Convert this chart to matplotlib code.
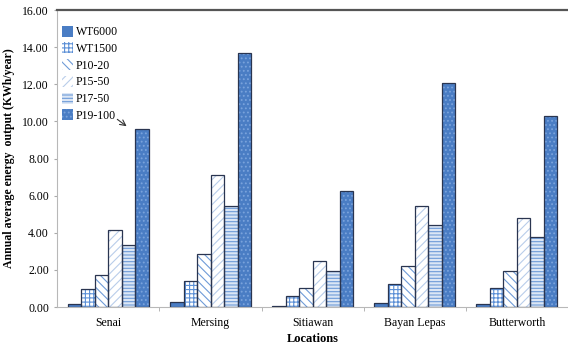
import numpy as np
import matplotlib
matplotlib.use("Agg")
import matplotlib.pyplot as plt
from matplotlib.patches import Patch

plt.rcParams["font.family"] = ["Liberation Serif", "DejaVu Serif"]
plt.rcParams["hatch.linewidth"] = 0.8

locations = ["Senai", "Mersing", "Sitiawan", "Bayan Lepas", "Butterworth"]
series = ["WT6000", "WT1500", "P10-20", "P15-50", "P17-50", "P19-100"]
wt6000 = [0.15, 0.25, 0.05, 0.20, 0.15]
wt1500 = [0.95, 1.40, 0.60, 1.25, 1.00]
p10_20 = [1.70, 2.85, 1.00, 2.20, 1.95]
p15_50 = [4.15, 7.10, 2.50, 5.45, 4.80]
p17_50 = [3.35, 5.45, 1.95, 4.40, 3.75]
p19_100 = [9.60, 13.70, 6.25, 12.05, 10.30]
values = [wt6000, wt1500, p10_20, p15_50, p17_50, p19_100]

blue = "#4a7dc4"
# (face, hatch, hatch colour) per series
styles = [
    (blue, None, blue),
    ("white", "++++", "#5b8fd6"),
    ("white", "\\\\\\\\", "#6f9bd8"),
    ("white", "////", "#b9cdea"),
    ("#dbe6f5", "-----", "#6f9bd8"),
    (blue, "....", "#7aa3dc"),
]

fig = plt.figure(figsize=(5.68, 3.45), dpi=100)
ax = fig.add_axes([0.101, 0.110, 0.899, 0.861])

x = np.arange(len(locations))
w = 0.132
handles = []
for i, (name, vals) in enumerate(zip(series, values)):
    face, hatch, hcol = styles[i]
    pos = x + (i - 2.5) * w
    # hatch layer, then outline on top
    ax.bar(pos, vals, w, color=face, hatch=hatch, edgecolor=hcol, linewidth=0, zorder=2)
    ax.bar(pos, vals, w, color="none", edgecolor="#2a3550", linewidth=0.9, zorder=3)
    handles.append(Patch(facecolor=face, hatch=hatch, edgecolor=hcol, linewidth=0))

ax.set_xlim(-0.5, 4.5)
ax.set_ylim(0, 16)
ax.set_yticks(np.arange(0, 16.1, 2))
ax.set_yticklabels([f"{v:.2f}" for v in np.arange(0, 16.1, 2)], fontsize=8.5)
ax.set_xticks(x)
ax.set_xticklabels(locations, fontsize=8.5)
ax.set_xticks(np.arange(0.5, 4.6, 1), minor=True)
ax.tick_params(axis="x", which="major", length=0, pad=7)
ax.tick_params(axis="x", which="minor", length=3, color="#aaaaaa")
ax.tick_params(axis="y", length=2, color="#aaaaaa", pad=4)

for s in ("left", "bottom"):
    ax.spines[s].set_color("#b8b8b8")
    ax.spines[s].set_linewidth(0.8)
ax.spines["top"].set_color("#555555")
ax.spines["top"].set_linewidth(1.6)
ax.spines["right"].set_visible(False)

ax.set_xlabel("Locations", fontsize=9, fontweight="bold", labelpad=3)
ax.set_ylabel("Annual average energy  output (KWh/year)", fontsize=8.5, fontweight="bold", labelpad=5)

leg = ax.legend(handles, series, loc="upper left", bbox_to_anchor=(-0.008, 0.975),
                frameon=False, fontsize=8.5, handlelength=1.0, handleheight=1.05,
                handletextpad=0.2, labelspacing=0.36, borderaxespad=0.3)

ax.annotate("", xy=(0.2, 9.65), xytext=(0.065, 10.2),
            arrowprops=dict(arrowstyle="->", color="#333333", lw=0.8))

fig.savefig("out.png", dpi=100)
